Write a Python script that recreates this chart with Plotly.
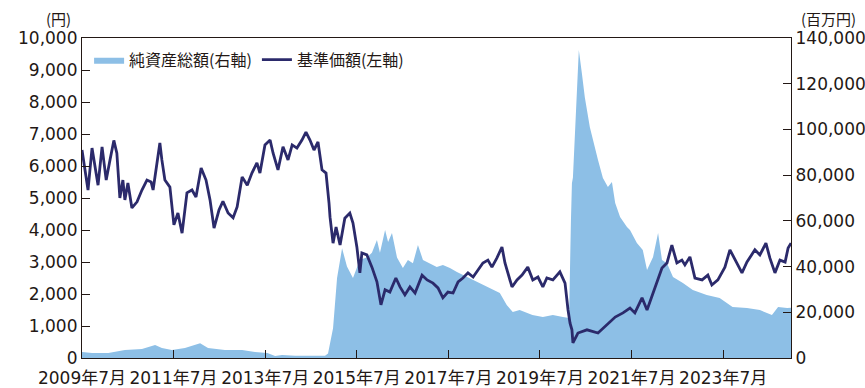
import plotly.graph_objects as go

# 基準価額 (円)
nav_dates = ["2009-07-01","2009-08-18","2009-09-19","2009-11-06","2009-12-08","2010-01-10","2010-02-10","2010-03-12","2010-04-05","2010-04-29",
"2010-05-23","2010-06-08","2010-07-02","2010-08-03","2010-09-13","2010-10-22","2010-12-01","2011-01-03","2011-01-19","2011-02-20",
"2011-03-14","2011-03-30","2011-04-23","2011-06-02","2011-07-04","2011-08-05","2011-09-07","2011-10-16","2011-11-25","2011-12-27",
"2012-02-06","2012-03-16","2012-04-17","2012-05-19","2012-06-28","2012-07-29","2012-09-08","2012-10-18","2012-11-19","2012-12-29",
"2013-02-08","2013-03-17","2013-04-26","2013-05-20","2013-06-29","2013-08-09","2013-09-02","2013-10-11","2013-11-20","2013-12-30",
"2014-02-01","2014-03-11","2014-04-20","2014-05-22","2014-06-23","2014-07-25","2014-08-26","2014-09-27","2014-10-29","2014-11-22",
"2014-11-30","2014-12-24","2015-01-17","2015-02-18","2015-03-28","2015-05-07","2015-06-01","2015-07-02","2015-07-26","2015-08-11",
"2015-09-20","2015-10-30","2015-12-09","2016-01-10","2016-02-12","2016-03-21","2016-05-08","2016-06-10","2016-07-19","2016-08-28",
"2016-10-08","2016-12-03","2017-01-12","2017-02-28","2017-04-09","2017-05-18","2017-06-27","2017-08-07","2017-09-16","2017-10-25",
"2017-12-04","2018-01-14","2018-02-23","2018-04-02","2018-05-12","2018-06-13","2018-07-22","2018-09-01","2018-09-25","2018-11-20",
"2018-12-30","2019-02-08","2019-03-26","2019-05-05","2019-06-15","2019-07-24","2019-08-25","2019-10-12","2019-12-07","2020-01-17",
"2020-02-10","2020-02-26","2020-03-12","2020-03-20","2020-04-29","2020-07-10","2020-10-06","2020-12-17","2021-02-20","2021-04-23",
"2021-06-18","2021-07-27","2021-09-22","2021-11-01","2021-12-19","2022-01-28","2022-02-28","2022-04-09","2022-05-18","2022-06-27",
"2022-08-06","2022-08-30","2022-10-09","2022-11-18","2023-01-14","2023-03-01","2023-04-02","2023-05-20","2023-07-15","2023-08-24",
"2023-10-19","2023-11-28","2024-01-07","2024-03-10","2024-04-19","2024-06-06","2024-07-08","2024-08-17","2024-09-26","2024-11-06",
"2024-11-30","2024-12-23"]
nav_values = [6500,5250,6560,5400,6600,5560,6200,6800,6400,5000,
5560,4940,5470,4690,4880,5250,5560,5500,5250,6100,
6720,6190,5560,5340,4160,4530,3900,5160,5250,5030,
5940,5560,4940,4060,4630,4900,4530,4380,4720,5660,
5400,5780,6100,5780,6660,6810,6400,5880,6600,6190,
6660,6560,6810,7060,6810,6500,6750,5880,5780,4840,
4400,3590,4090,3530,4370,4530,4220,3470,2660,3280,
3220,2840,2380,1660,2130,2060,2500,2220,1970,2220,
2030,2590,2440,2340,2190,1880,2060,2030,2380,2500,
2660,2530,2750,2970,3060,2840,3120,3470,2970,2220,
2440,2590,2840,2440,2530,2220,2500,2440,2690,2340,
1500,1090,880,470,780,880,780,1030,1280,1410,
1560,1410,1880,1500,2030,2530,2810,2970,3530,2970,
3060,2910,3160,2500,2440,2590,2280,2440,2840,3380,
2970,2660,3000,3380,3220,3590,3120,2660,3060,3000,
3440,3590]

# 純資産総額 (百万円)
na_dates = ["2009-07-01","2009-09-19","2010-01-27","2010-06-08","2010-10-22","2011-02-04","2011-03-30","2011-06-18","2011-09-30","2012-01-29",
"2012-04-01","2012-08-14","2012-12-29","2013-04-10","2013-07-18","2013-09-18","2013-11-12","2014-02-25","2014-10-21","2014-11-14",
"2014-12-24","2015-01-25","2015-03-06","2015-04-14","2015-06-01","2015-07-26","2015-09-20","2015-10-30","2015-12-09","2016-01-02",
"2016-02-12","2016-03-07","2016-04-07","2016-05-17","2016-07-03","2016-08-12","2016-09-21","2016-10-31","2016-12-10","2017-02-03",
"2017-03-30","2017-05-18","2017-07-13","2017-09-07","2017-11-25","2018-01-14","2018-03-10","2018-05-04","2018-06-21","2018-08-15",
"2018-10-09","2018-11-26","2019-01-20","2019-03-15","2019-05-02","2019-07-24","2019-10-12","2019-12-31","2020-02-18","2020-03-04",
"2020-03-12","2020-03-20","2020-04-20","2020-05-06","2020-05-30","2020-06-23","2020-08-02","2020-08-26","2020-10-06","2020-11-14",
"2020-12-24","2021-01-25","2021-02-20","2021-03-31","2021-05-25","2021-06-18","2021-08-12","2021-09-28","2021-11-01","2021-12-19",
"2022-01-28","2022-02-28","2022-04-09","2022-05-27","2022-08-14","2022-11-01","2023-02-20","2023-06-03","2023-09-14","2024-01-07",
"2024-04-19","2024-07-24","2024-09-11","2024-11-22","2024-12-23"]
na_values = [2600,2200,2200,3500,3900,5700,4400,3500,4400,6500,
4400,3500,3500,2600,2200,900,1300,1000,1000,2000,
13000,35000,48000,40000,35000,43000,44000,46000,51600,46000,
56000,50700,54700,44000,39400,42900,41400,49400,42900,41400,
39800,40700,39400,37600,35400,34100,32800,31000,29800,28400,
23200,20100,21000,19700,18800,17900,18800,17900,17500,60000,
76500,79000,114000,134700,124700,114000,101000,95400,86600,78700,
74800,77000,67800,61700,57300,56000,50300,47200,38500,44200,
54700,42900,41500,35400,32800,29800,27600,26300,22300,21900,
21000,18800,22300,21900,22000]

x_tick_vals = ["2009-07-01","2011-07-01","2013-07-01","2015-07-01","2017-07-01","2019-07-01","2021-07-01","2023-07-01"]
x_tick_text = ["2009年7月","2011年7月","2013年7月","2015年7月","2017年7月","2019年7月","2021年7月","2023年7月"]
left_tick_vals = [0,1000,2000,3000,4000,5000,6000,7000,8000,9000,10000]
left_tick_text = ["0","1,000","2,000","3,000","4,000","5,000","6,000","7,000","8,000","9,000","10,000"]
right_tick_vals = [0,20000,40000,60000,80000,100000,120000,140000]
right_tick_text = ["0","20,000","40,000","60,000","80,000","100,000","120,000","140,000"]

FONT = "DejaVu Sans, Noto Sans CJK JP"
TXT = "#231815"

fig = go.Figure()
fig.add_trace(go.Scatter(x=na_dates, y=na_values, name="純資産総額(右軸)", mode="lines",
                         line=dict(width=0, color="#8dbfe6"), fill="tozeroy", fillcolor="#8dbfe6",
                         yaxis="y"))
fig.add_trace(go.Scatter(x=nav_dates, y=nav_values, name="基準価額(左軸)", mode="lines",
                         line=dict(width=2.8, color="#2b2a6b"), yaxis="y2"))

fig.update_layout(
    width=865, height=388,
    margin=dict(l=82, r=74, t=38, b=30),
    paper_bgcolor="white", plot_bgcolor="white",
    font=dict(family=FONT, color=TXT, size=17),
    showlegend=True,
    legend=dict(orientation="h", x=0.01, y=0.985, xanchor="left", yanchor="top",
                bgcolor="rgba(0,0,0,0)", font=dict(size=16, color=TXT, family="Noto Sans CJK JP"), itemwidth=30),
    xaxis=dict(type="date", range=["2009-07-01", "2024-12-23"], tickvals=x_tick_vals, ticktext=x_tick_text,
               tickangle=0, automargin=False,
               ticks="inside", ticklen=8, tickcolor="#231815", showline=True, linecolor="#231815", linewidth=1.2,
               mirror=True, showgrid=False, zeroline=False, tickfont=dict(size=17), ticklabelstandoff=4),
    yaxis=dict(side="right", range=[0, 140000], tickvals=right_tick_vals, ticktext=right_tick_text,
               automargin=False,
               ticks="inside", ticklen=8, tickcolor="#231815", showline=True, linecolor="#231815", linewidth=1.2,
               showgrid=False, zeroline=False, tickfont=dict(size=17)),
    yaxis2=dict(side="left", overlaying="y", range=[0, 10000], tickvals=left_tick_vals, ticktext=left_tick_text,
                automargin=False,
                ticks="inside", ticklen=8, tickcolor="#231815", showline=True, linecolor="#231815", linewidth=1.2,
                showgrid=False, zeroline=False, tickfont=dict(size=17)),
    annotations=[
        dict(text="(円)", xref="paper", yref="paper", x=0, xshift=-24, y=1.0, yshift=20, xanchor="center", yanchor="middle",
             showarrow=False, font=dict(size=15, color=TXT, family="Noto Sans CJK JP")),
        dict(text="(百万円)", xref="paper", yref="paper", x=1.0, xshift=37, y=1.0, yshift=20, xanchor="center", yanchor="middle",
             showarrow=False, font=dict(size=15, color=TXT, family="Noto Sans CJK JP")),
    ],
)

fig.write_html("out.html")
